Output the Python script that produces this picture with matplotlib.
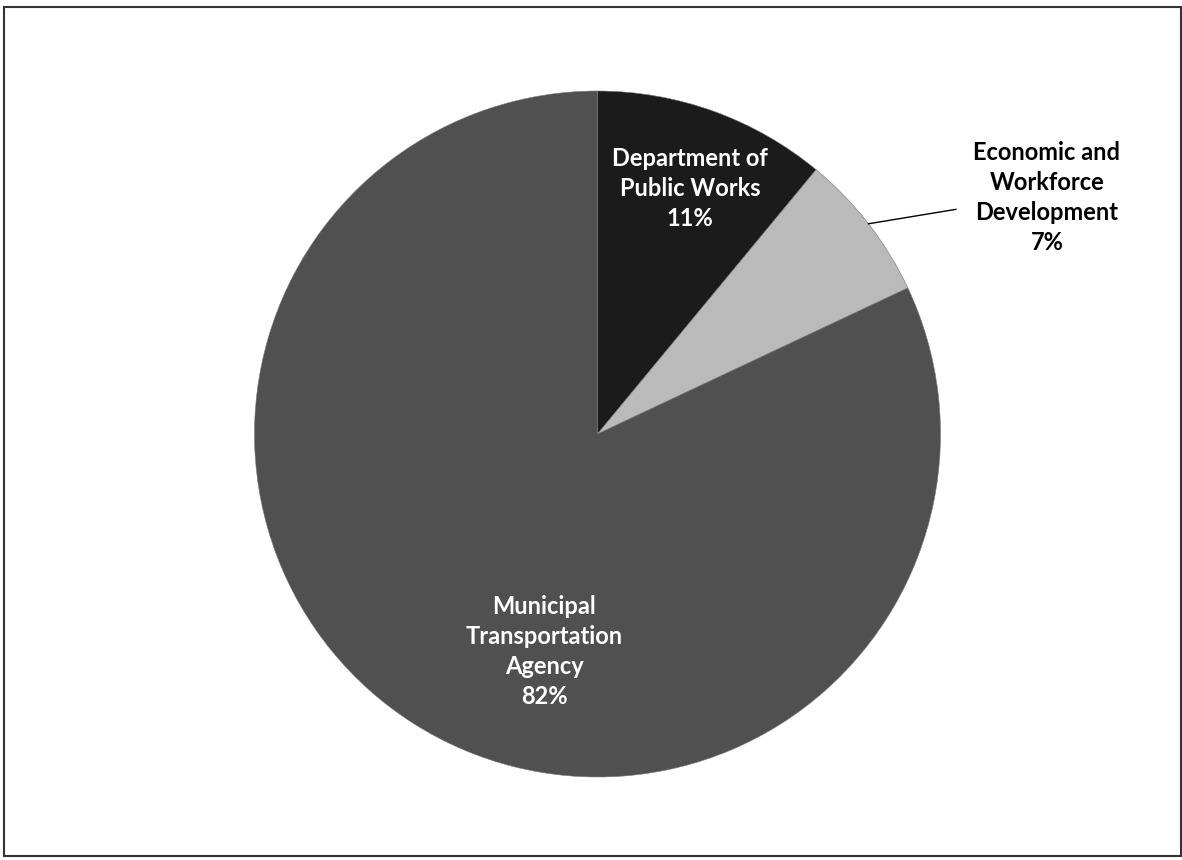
import matplotlib
matplotlib.use("Agg")
import matplotlib.pyplot as plt
from matplotlib.patches import Rectangle
import numpy as np

# datos del grafico
departamentos = ["Department of\nPublic Works", "Economic and\nWorkforce\nDevelopment",
                 "Municipal\nTransportation\nAgency"]
porcentajes = [11, 7, 82]
colores = ["#1b1b1b", "#bababa", "#505050"]
color_texto = ["white", "black", "white"]

plt.rcParams['font.family'] = ['Lato', 'DejaVu Sans']

W, H = 1182, 860
fig = plt.figure(figsize=(W / 100, H / 100), dpi=100)
ax = fig.add_axes([0, 0, 1, 1])

wedges, _ = ax.pie(porcentajes, colors=colores, startangle=90, counterclock=False,
                   wedgeprops=dict(edgecolor="#777777", linewidth=0.4))

# escala: centro del pie en (597.5, 434) px, radio 343 px
cx, cy, r = 597.5, 434, 343
ax.set_xlim(-cx / r, (W - cx) / r)
ax.set_ylim((cy - H) / r, cy / r)
ax.set_aspect('auto')
ax.axis('off')

# posiciones de las etiquetas (relativas al radio)
pos_etiquetas = [(0.27, 0.715), (1.31, 0.69), (-0.155, -0.635)]
for i, (nombre, pct) in enumerate(zip(departamentos, porcentajes)):
    x, y = pos_etiquetas[i]
    ax.text(x, y, f"{nombre}\n{pct}%", ha='center', va='center', color=color_texto[i],
            fontsize=17, fontweight='bold', linespacing=1.37)

# linea guia para la porcion pequena
w = wedges[1]
ang = np.deg2rad((w.theta1 + w.theta2) / 2)
ax.plot([np.cos(ang), 1.045], [np.sin(ang), 0.655], color="black", linewidth=1.0)

# marco del grafico
fig.patches.append(Rectangle((4 / W, 4 / H), 1177 / W, 849 / H, transform=fig.transFigure,
                             fill=False, edgecolor="#333333", linewidth=1.5))

fig.savefig("out.png", dpi=100, facecolor="white")
